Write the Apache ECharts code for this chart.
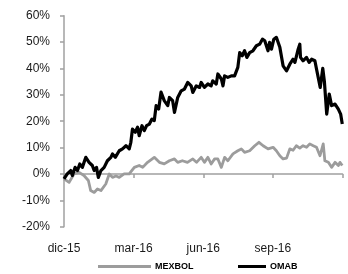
<!DOCTYPE html>
<html>
<head>
<meta charset="utf-8">
<script src="https://cdn.jsdelivr.net/npm/echarts@6/dist/echarts.min.js"></script>
<style>
html,body{margin:0;padding:0;background:#fff;}
#c{width:348px;height:274px;}
</style>
</head>
<body>
<div id="c"></div>
<script>
// x = months elapsed since 1 Dec 2015
var xTickLabels = ['dic-15', 'mar-16', 'jun-16', 'sep-16', ''];
var omabT = [0.00,0.14,0.29,0.36,0.48,0.58,0.68,0.79,0.94,1.08,1.22,1.30,1.40,1.48,1.59,1.73,1.87,2.02,2.09,2.21,2.38,2.52,2.67,2.81,2.88,2.95,3.07,3.17,3.24,3.36,3.46,3.56,3.68,3.79,3.89,3.97,4.08,4.18,4.32,4.47,4.54,4.68,4.76,4.90,5.05,5.19,5.33,5.48,5.55,5.70,5.84,5.91,6.05,6.20,6.34,6.41,6.56,6.63,6.78,6.85,6.92,7.06,7.21,7.35,7.42,7.49,7.57,7.68,7.78,7.88,8.00,8.14,8.29,8.43,8.55,8.65,8.72,8.79,8.86,8.94,9.04,9.15,9.22,9.30,9.44,9.59,9.66,9.73,9.87,9.95,10.09,10.16,10.19,10.30,10.45,10.56,10.67,10.81,10.88,11.04,11.15,11.22,11.32,11.43,11.53,11.68,11.82,11.92,11.99];
var omabV = [-1.9,0,1.3,-0.6,2.5,1.3,3.8,2.5,6.3,4.4,3.2,1.3,2.5,-1.3,1.3,2.5,5.0,6.3,7.6,6.3,8.8,9.5,10.7,9.5,12.0,17.0,15.8,17.7,14.5,18.3,16.4,18.3,18.9,20.8,20.2,25.9,24.6,31.0,27.8,25.9,29.0,27.8,23.3,29.0,31.5,32.2,34.7,33.4,30.9,33.4,32.8,34.7,32.8,34.1,33.4,35.3,34.1,37.9,36.0,33.4,37.2,36.6,37.2,37.2,37.9,40.4,46.0,44.8,46.7,44.2,46.0,46.7,48.6,49.2,51.1,50.5,48.6,46.7,49.9,47.3,51.1,51.8,52.4,48.0,41.0,39.1,38.5,41.6,43.5,42.3,47.3,49.2,44.2,42.9,44.2,42.3,43.5,42.9,39.8,32.8,40.0,35.0,22.7,30.3,25.9,26.5,24.6,22.7,18.9];
var mexT = [0.00,0.22,0.43,0.65,0.86,1.05,1.15,1.30,1.44,1.59,1.80,1.95,2.09,2.24,2.38,2.59,2.81,3.03,3.24,3.39,3.60,3.89,4.11,4.32,4.54,4.76,4.90,5.10,5.32,5.55,5.71,5.91,6.05,6.20,6.34,6.49,6.63,6.78,6.92,7.06,7.28,7.49,7.64,7.78,8.00,8.22,8.40,8.58,8.79,9.01,9.15,9.30,9.44,9.59,9.73,9.87,10.01,10.16,10.30,10.45,10.59,10.74,10.88,11.03,11.17,11.24,11.39,11.53,11.68,11.82,11.89,11.99];
var mexV = [-1.9,-3.2,0,0.6,-0.6,-2.5,-6.3,-7.0,-5.7,-6.3,-3.8,0,-1.3,-0.8,-1.3,0,0,2.5,3.2,2.5,4.4,6.3,4.4,3.8,5.0,5.7,4.4,5.0,4.4,5.7,4.4,6.3,4.4,6.3,3.8,5.7,5.7,2.5,6.3,5.0,7.6,8.8,9.5,8.2,8.8,10.7,12.0,10.7,9.5,10.1,8.8,6.9,5.7,6.0,9.5,9.0,10.7,9.8,10.7,10.1,11.4,10.7,10.1,6.9,11.4,5.0,4.4,2.5,4.4,3.2,4.4,3.2];

function zip(t, v) { return t.map(function (x, i) { return [x, v[i]]; }); }

var chart = echarts.init(document.getElementById('c'), null, {renderer: 'canvas'});
var font = 'Liberation Sans, Arial, sans-serif';
chart.setOption({
  animation: false,
  backgroundColor: '#fff',
  grid: {left: 64, right: 5.5, top: 15.7, bottom: 47.3, containLabel: false},
  legend: [
    {data: ['MEXBOL'], left: 98, top: 262, icon: 'rect', itemWidth: 53, itemHeight: 3, itemGap: 0, padding: 0,
     textStyle: {fontFamily: font, fontSize: 9, fontWeight: 'bold', color: '#000', padding: [0, 0, 0, -1]}},
    {data: ['OMAB'], left: 238, top: 262, icon: 'rect', itemWidth: 28, itemHeight: 3, itemGap: 0, padding: 0,
     textStyle: {fontFamily: font, fontSize: 9, fontWeight: 'bold', color: '#000', padding: [0, 0, 0, -1]}}
  ],
  xAxis: {
    type: 'value', min: 0, max: 12, interval: 3,
    axisLine: {show: true, lineStyle: {color: '#a0a0a0', width: 1.5}},
    axisTick: {show: true, length: 4, lineStyle: {color: '#a0a0a0', width: 1.5}},
    splitLine: {show: false},
    axisLabel: {
      margin: 16, fontFamily: font, fontSize: 12, color: '#1a1a1a',
      formatter: function (v) { return xTickLabels[Math.round(v / 3)]; }
    }
  },
  yAxis: {
    type: 'value', min: -20, max: 60, interval: 10,
    axisLine: {show: true, lineStyle: {color: '#a0a0a0', width: 1.5}},
    axisTick: {show: true, length: 4, lineStyle: {color: '#a0a0a0', width: 1.5}},
    splitLine: {show: false},
    axisLabel: {margin: 14, fontFamily: font, fontSize: 12, color: '#1a1a1a', formatter: '{value}%'}
  },
  series: [
    {name: 'MEXBOL', type: 'line', data: zip(mexT, mexV), showSymbol: false, symbol: 'none',
     lineStyle: {color: '#9c9c9c', width: 2.8, join: 'round'}, itemStyle: {color: '#9c9c9c'}, z: 2},
    {name: 'OMAB', type: 'line', data: zip(omabT, omabV), showSymbol: false, symbol: 'none',
     lineStyle: {color: '#000', width: 3.2, join: 'round'}, itemStyle: {color: '#000'}, z: 3}
  ]
});
</script>
</body>
</html>
